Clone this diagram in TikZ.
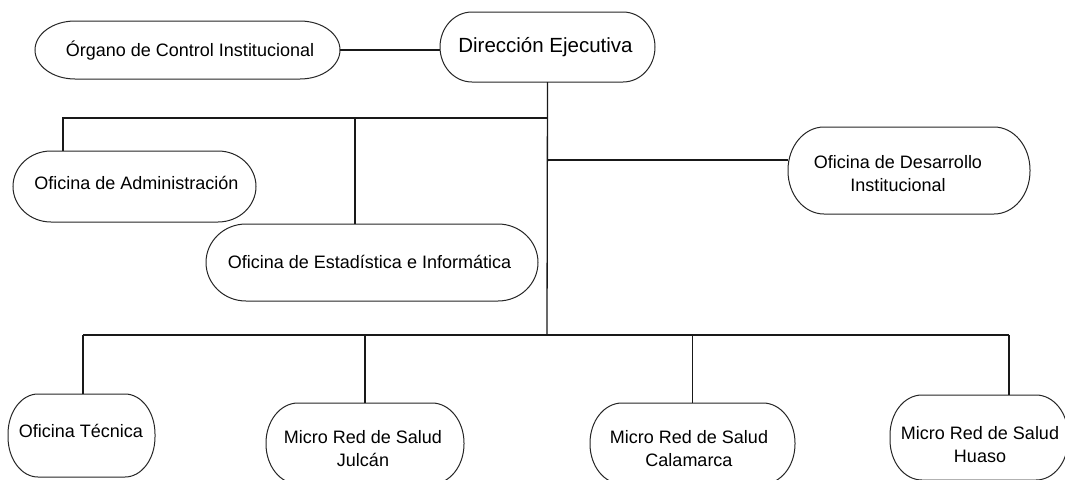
\documentclass[tikz,border=0pt]{standalone}
\usepackage{fontspec}
\setmainfont{Liberation Sans}
\newcommand{\ellbox}[3]{%
  \draw[boxline] ([xshift=#2]#1.north west) -- ([xshift=-#2]#1.north east)
    arc[start angle=90,end angle=0,x radius=#2,y radius=#3]
    -- ([yshift=#3]#1.south east)
    arc[start angle=0,end angle=-90,x radius=#2,y radius=#3]
    -- ([xshift=#2]#1.south west)
    arc[start angle=270,end angle=180,x radius=#2,y radius=#3]
    -- ([yshift=-#3]#1.north west)
    arc[start angle=180,end angle=90,x radius=#2,y radius=#3] -- cycle;}
\begin{document}
\begin{tikzpicture}[x=1pt,y=1pt,
  frame/.style={draw=none, inner sep=0pt, outer sep=0pt},
  boxline/.style={draw=black!85, line width=1.0pt},
  conn/.style={draw=black!90, line width=1.3pt},
  txt/.style={inner sep=0pt, outer sep=0pt, align=center, font=\fontsize{18}{23}\selectfont},
  bigtxt/.style={inner sep=0pt, outer sep=0pt, font=\fontsize{20.5}{24}\selectfont}]
\useasboundingbox (0,0) rectangle (1065,-479);
\clip (0,0) rectangle (1065,-479);
\fill[white] (0,0) rectangle (1065,-479);

% box geometry
\node[frame, minimum width=305pt, minimum height=58pt] (organo) at (187.5,-50) {};
\node[frame, minimum width=215pt, minimum height=70pt] (direccion) at (547.5,-47) {};
\node[frame, minimum width=243pt, minimum height=71pt] (admin) at (134.5,-186.5) {};
\node[frame, minimum width=332pt, minimum height=77pt] (estad) at (372,-262.5) {};
\node[frame, minimum width=242pt, minimum height=87pt] (desarrollo) at (909,-170.5) {};
\node[frame, minimum width=147pt, minimum height=83pt] (tecnica) at (81.5,-435.5) {};
\node[frame, minimum width=198pt, minimum height=81pt] (julcan) at (365,-443.5) {};
\node[frame, minimum width=205pt, minimum height=81pt] (calamarca) at (692.5,-443.5) {};
\node[frame, minimum width=178pt, minimum height=85pt] (huaso) at (979,-437.5) {};

\ellbox{organo}{40pt}{29pt}
\ellbox{direccion}{32pt}{35pt}
\ellbox{admin}{38pt}{35.5pt}
\ellbox{estad}{40pt}{38.5pt}
\ellbox{desarrollo}{36pt}{43pt}
\ellbox{tecnica}{30pt}{40pt}
\ellbox{julcan}{32pt}{40pt}
\ellbox{calamarca}{32pt}{40pt}
\ellbox{huaso}{32pt}{40pt}

% texts
\node[txt, anchor=base] (organoT) at (190,-56) {Órgano de Control Institucional};
\node[bigtxt, anchor=base] (direccionT) at (545.5,-52) {Dirección Ejecutiva};
\node[txt, anchor=base] (adminT) at (136.5,-189) {Oficina de Administración};
\node[txt, anchor=base] (estadT) at (369.5,-268) {Oficina de Estadística e Informática};
\node[txt, anchor=north] (desarrolloT) at (898,-155.8) {Oficina de Desarrollo\\Institucional};
\node[txt, anchor=base] (tecnicaT) at (81,-437) {Oficina Técnica};
\node[txt, anchor=north] (julcanT) at (363,-430.8) {Micro Red de Salud\\Julcán};
\node[txt, anchor=north] (calamarcaT) at (689,-430.8) {Micro Red de Salud\\Calamarca};
\node[txt, anchor=north] (huasoT) at (980,-426.8) {Micro Red de Salud\\Huaso};

% connectors
\coordinate (bus1) at (547,-118);
\coordinate (bus2) at (547,-335);
\coordinate (jd) at (547,-160);
\coordinate (adrop) at (63,-118);
\coordinate (edrop) at (355,-118);
\coordinate (bl) at (83,-335);
\coordinate (br) at (1009,-335);

\draw[conn] (organo.east) -- (organo.east -| direccion.west);
\draw[conn] (direccion.south) -- (bus2);
\draw[conn] (bus1) -- (adrop) -- (adrop |- admin.north);
\draw[conn] (edrop) -- (edrop |- estad.north);
\draw[conn] (jd) -- (jd -| desarrollo.west);
\draw[conn] (bl) -- (br);
\draw[conn] (bl) -- (bl |- tecnica.north);
\draw[conn] (bus2 -| julcan.north) -- (julcan.north);
\draw[conn] (bus2 -| calamarca.north) -- (calamarca.north);
\draw[conn] (br) -- (br |- huaso.north);
\end{tikzpicture}
\end{document}
